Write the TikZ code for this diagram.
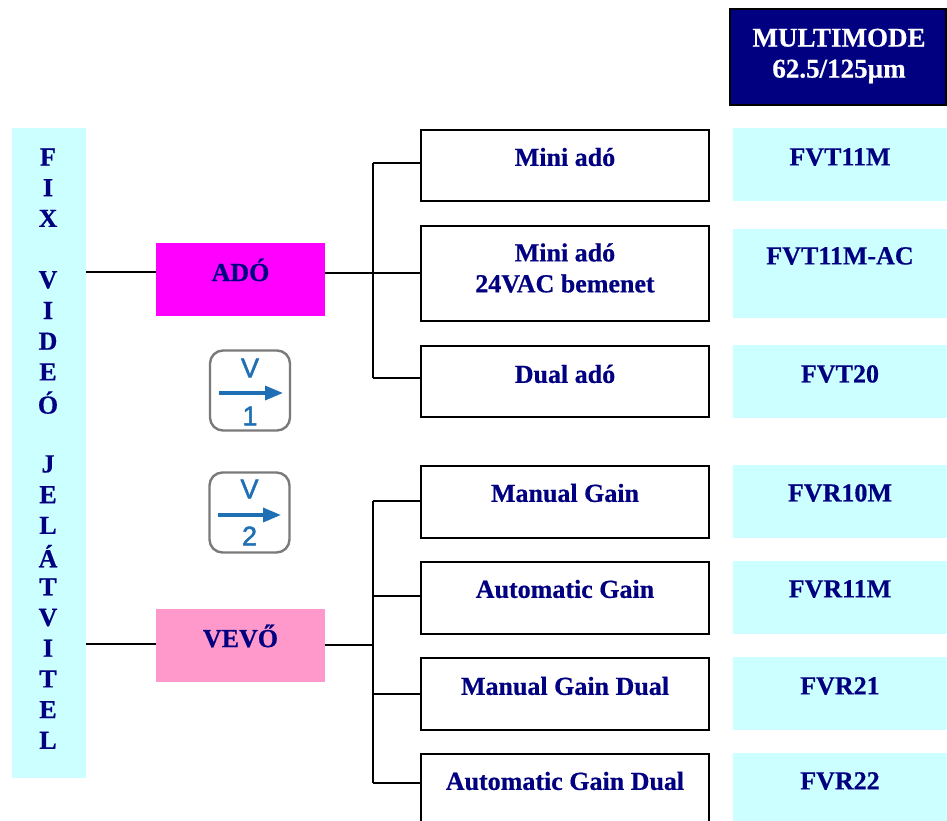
\documentclass[tikz,border=0pt]{standalone}
\usepackage{fontspec}
\setmainfont{Liberation Serif}[BoldFeatures={FakeBold=0.6}]
\newfontfamily\iconfont{Liberation Sans}[FakeBold=1.8]
\usetikzlibrary{arrows.meta}
\definecolor{navy}{HTML}{000080}
\definecolor{cyanbox}{HTML}{CCFFFF}
\definecolor{pinkbox}{HTML}{FF99CC}
\definecolor{magbox}{HTML}{FF00FF}
\definecolor{iconblue}{HTML}{1F6FB5}
\definecolor{icongray}{HTML}{7A7A7A}
\begin{document}
\begin{tikzpicture}[x=1pt,y=-1pt,
  txt/.style={font=\fontsize{26}{31}\selectfont\bfseries, text=navy, inner sep=0pt, align=center},
  itembox/.style={draw=black, line width=1.6pt, fill=white, minimum width=288pt, minimum height=72pt, inner sep=0pt},
  codebox/.style={fill=cyanbox, draw=none, minimum width=214pt, inner sep=0pt},
  mainbox/.style={draw=none, minimum width=169pt, minimum height=73pt, inner sep=0pt},
  wire/.style={line width=1.4pt, black},
  iconbox/.style={draw=icongray, line width=2.4pt, rounded corners=13pt, fill=white, minimum width=80pt, minimum height=80pt, inner sep=0pt},
  icontxt/.style={font=\iconfont\fontsize{27}{27}\selectfont, text=iconblue, inner sep=0pt},
  iconarrow/.style={line width=3.4pt, iconblue, -{Triangle[length=18pt,width=14pt]}}
]
\useasboundingbox (0,0) rectangle (947,821);

% header
\node[draw=black, line width=1.5pt, fill=navy, minimum width=216pt, minimum height=96pt, inner sep=0pt] (hdr) at (838,57) {};
\node[txt, text=white, font=\fontsize{27}{31}\selectfont\bfseries] (hdrt) at (839,56) {MULTIMODE\\62.5/125µm};

% left vertical bar
\node[fill=cyanbox, minimum width=74pt, minimum height=650pt, inner sep=0pt] (bar) at (49,453) {};
\foreach \l [count=\i] in {F,I,X,{},V,I,D,E,Ó,{},J,E,L,Á,T,V,I,T,E,L}
  \node[txt] (l\i) at (48,{157+(\i-1)*30.7}) {\l};

% main boxes
\node[mainbox, fill=magbox] (ado) at (240.5,279) {};
\node[txt] (adot) at (240.5,270) {ADÓ};
\node[mainbox, fill=pinkbox] (vevo) at (240.5,645) {};
\node[txt] (vevot) at (240.5,636) {VEVŐ};

% item boxes (transmitters)
\node[itembox, minimum height=71pt] (b1) at (565,165.5) {};
\node[txt] (b1t) at (565,157) {Mini adó};
\node[itembox, minimum height=95pt] (b2) at (565,273.5) {};
\node[txt] (b2t) at (565,268) {Mini adó\\24VAC bemenet};
\node[itembox, minimum height=71pt] (b3) at (565,381.5) {};
\node[txt] (b3t) at (565,374) {Dual adó};
% item boxes (receivers)
\node[itembox] (b4) at (565,502) {};
\node[txt] (b4t) at (565,493) {Manual Gain};
\node[itembox] (b5) at (565,598) {};
\node[txt] (b5t) at (565,589) {Automatic Gain};
\node[itembox] (b6) at (565,694) {};
\node[txt] (b6t) at (565,686) {Manual Gain Dual};
\node[itembox] (b7) at (565,790) {};
\node[txt] (b7t) at (565,781) {Automatic Gain Dual};

% code boxes
\node[codebox, minimum height=73pt] (c1) at (840,164.5) {};
\node[txt] (c1t) at (840,157) {FVT11M};
\node[codebox, minimum height=89pt] (c2) at (840,273.5) {};
\node[txt] (c2t) at (840,256) {FVT11M-AC};
\node[codebox, minimum height=73pt] (c3) at (840,381.5) {};
\node[txt] (c3t) at (840,374) {FVT20};
\node[codebox, minimum height=73pt] (c4) at (840,501.5) {};
\node[txt] (c4t) at (840,493) {FVR10M};
\node[codebox, minimum height=73pt] (c5) at (840,597.5) {};
\node[txt] (c5t) at (840,589) {FVR11M};
\node[codebox, minimum height=73pt] (c6) at (840,693.5) {};
\node[txt] (c6t) at (840,686) {FVR21};
\node[codebox, minimum height=80pt] (c7) at (840,793) {};
\node[txt] (c7t) at (840,781) {FVR22};

% connectors
\coordinate (ja) at (373,273);
\coordinate (jv) at (373,645);
\coordinate (ta) at (373,163);
\coordinate (tb) at (373,378);
\coordinate (tc) at (373,501);
\coordinate (td) at (373,783);
\draw[wire] (bar.east |- 0,272) -- (ado.west |- 0,272);
\draw[wire] (ado.east |- ja) -- (ja);
\draw[wire] (ta) -- (tb);
\draw[wire] (ta) -- (b1.west |- ta);
\draw[wire] (ja) -- (b2.west |- ja);
\draw[wire] (tb) -- (b3.west |- tb);

\draw[wire] (bar.east |- 0,644) -- (vevo.west |- 0,644);
\draw[wire] (vevo.east |- jv) -- (jv);
\draw[wire] (tc) -- (td);
\draw[wire] (tc) -- (b4.west |- tc);
\draw[wire] (373,596) -- (b5.west |- 0,596);
\draw[wire] (373,694) -- (b6.west |- 0,694);
\draw[wire] (td) -- (b7.west |- td);

% icons
\node[iconbox] (ic1) at (250,390.5) {};
\node[icontxt] (ic1v) at (250,368) {V};
\node[icontxt] (ic1n) at (250,416) {1};
\coordinate (ic1a) at (219,393);
\coordinate (ic1b) at (283,393);
\draw[iconarrow] (ic1a) -- (ic1b);

\node[iconbox] (ic2) at (249.5,512.5) {};
\node[icontxt] (ic2v) at (249.5,489) {V};
\node[icontxt] (ic2n) at (249.5,536) {2};
\coordinate (ic2a) at (218,515);
\coordinate (ic2b) at (281,515);
\draw[iconarrow] (ic2a) -- (ic2b);
\end{tikzpicture}
\end{document}
